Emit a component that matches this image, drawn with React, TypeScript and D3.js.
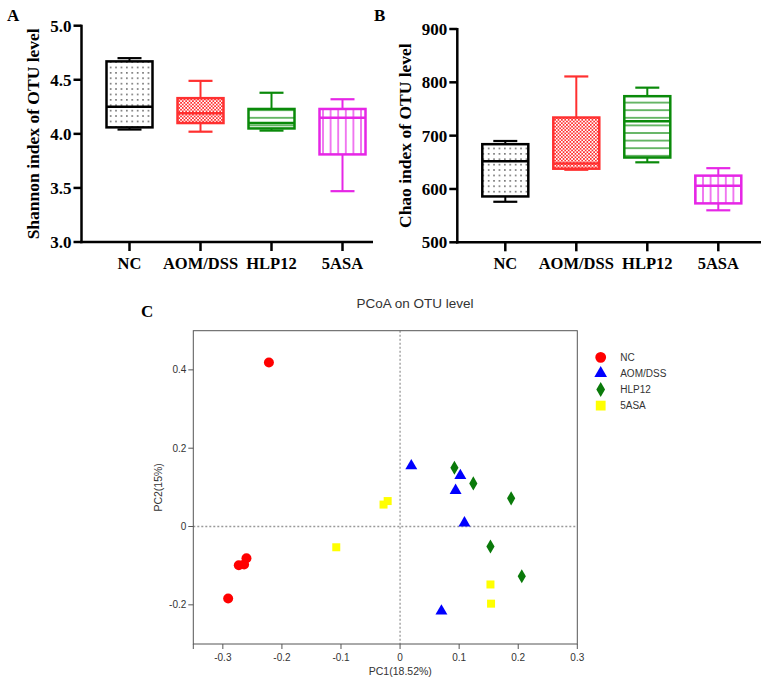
import React from "react";
import * as d3 from "d3";

const groups = ["NC", "AOM/DSS", "HLP12", "5ASA"];
const colors = ["#000000", "#ff3030", "#0a8a0a", "#e626e6"];
// [whiskerLow, q1, median, q3, whiskerHigh]
const shannon = [
  [4.04, 4.06, 4.25, 4.67, 4.70],
  [4.02, 4.10, 4.19, 4.33, 4.49],
  [4.03, 4.05, 4.10, 4.23, 4.38],
  [3.47, 3.81, 4.15, 4.23, 4.32],
];
const chao = [
  [576, 586, 652, 684, 690],
  [636, 638, 648, 734, 811],
  [650, 659, 727, 774, 790],
  [560, 573, 606, 625, 639],
];
const shannonTicks = [3.0, 3.5, 4.0, 4.5, 5.0];
const chaoTicks = [500, 600, 700, 800, 900];

const pcoaGroups = ["NC", "AOM/DSS", "HLP12", "5ASA"];
const pcoaColors = ["#ff0000", "#0000ff", "#0a7a0a", "#ffff00"];
const ncPts = [[-0.222, 0.419], [-0.291, -0.184], [-0.273, -0.099], [-0.264, -0.097], [-0.26, -0.081]];
const aomPts = [[0.019, 0.155], [0.102, 0.13], [0.094, 0.092], [0.109, 0.009], [0.07, -0.216]];
const hlpPts = [[0.092, 0.15], [0.124, 0.11], [0.188, 0.072], [0.153, -0.051], [0.206, -0.127]];
const asaPts = [[-0.021, 0.065], [-0.028, 0.056], [-0.108, -0.053], [0.153, -0.148], [0.154, -0.197]];
const pcoaData = [ncPts, aomPts, hlpPts, asaPts];
const pcXTicks = [-0.3, -0.2, -0.1, 0, 0.1, 0.2, 0.3];
const pcYTicks = [-0.2, 0, 0.2, 0.4];

const serif = "'Liberation Serif', 'Times New Roman', serif";
const sans = "'Liberation Sans', Arial, sans-serif";

const patternIds = ["patDots", "patCheck", "patHLines", "patVLines"];

function Patterns() {
  return (
    <defs>
      <pattern id="patDots" patternUnits="userSpaceOnUse" width={5.4} height={5.4}>
        <rect width={5.4} height={5.4} fill="#fff" />
        <rect x={2} y={2} width={1.3} height={1.3} fill="#222" />
      </pattern>
      <pattern id="patCheck" patternUnits="userSpaceOnUse" width={3.4} height={3.4}>
        <rect width={3.4} height={3.4} fill="#fff" />
        <rect x={0} y={0} width={1.7} height={1.7} fill="#ff3030" />
        <rect x={1.7} y={1.7} width={1.7} height={1.7} fill="#ff3030" />
      </pattern>
      <pattern id="patHLines" patternUnits="userSpaceOnUse" width={10} height={7.6}>
        <rect width={10} height={7.6} fill="#fff" />
        <line x1={0} x2={10} y1={3.8} y2={3.8} stroke="#0a8a0a" strokeWidth={1.5} strokeOpacity={0.8} />
      </pattern>
      <pattern id="patVLines" patternUnits="userSpaceOnUse" width={7.6} height={10}>
        <rect width={7.6} height={10} fill="#fff" />
        <line y1={0} y2={10} x1={3.8} x2={3.8} stroke="#e626e6" strokeWidth={1.5} strokeOpacity={0.8} />
      </pattern>
    </defs>
  );
}

type BoxPanelProps = {
  axisX: number;
  axisRight: number;
  top: number;
  bottom: number;
  domain: [number, number];
  ticks: number[];
  fmt: (v: number) => string;
  data: number[][];
  yLabel: string;
  yLabelX: number;
  panel: string;
  panelX: number;
};

function BoxPanel(p: BoxPanelProps) {
  const y = d3.scaleLinear().domain(p.domain).range([p.bottom, p.top]);
  const x = d3.scalePoint<string>().domain(groups).range([p.axisX + 48, p.axisX + 261]);
  const bw = 46;
  const cap = 24;
  return (
    <g>
      <text x={p.panelX} y={21} fontFamily={serif} fontWeight="bold" fontSize={17}>{p.panel}</text>
      {/* boxes */}
      {p.data.map((d, i) => {
        const cx = x(groups[i])!;
        const c = colors[i];
        return (
          <g key={i}>
            <line x1={cx} x2={cx} y1={y(d[3])} y2={y(d[4])} stroke={c} strokeWidth={2} />
            <line x1={cx - cap / 2} x2={cx + cap / 2} y1={y(d[4])} y2={y(d[4])} stroke={c} strokeWidth={2.2} />
            <line x1={cx} x2={cx} y1={y(d[1])} y2={y(d[0])} stroke={c} strokeWidth={2} />
            <line x1={cx - cap / 2} x2={cx + cap / 2} y1={y(d[0])} y2={y(d[0])} stroke={c} strokeWidth={2.2} />
            <rect x={cx - bw / 2} y={y(d[3])} width={bw} height={y(d[1]) - y(d[3])}
              fill={`url(#${patternIds[i]})`} stroke={c} strokeWidth={2.5} />
            <line x1={cx - bw / 2} x2={cx + bw / 2} y1={y(d[2])} y2={y(d[2])} stroke={c} strokeWidth={2.5} />
          </g>
        );
      })}
      {/* y axis */}
      <line x1={p.axisX} x2={p.axisX} y1={p.top - 1} y2={p.bottom + 1.2} stroke="#000" strokeWidth={2.5} />
      {p.ticks.map((t) => (
        <g key={t}>
          <line x1={p.axisX - 8} x2={p.axisX} y1={y(t)} y2={y(t)} stroke="#000" strokeWidth={2.5} />
          <text x={p.axisX - 10} y={y(t)} dy="0.35em" textAnchor="end" fontFamily={serif} fontWeight="bold" fontSize={17}>{p.fmt(t)}</text>
        </g>
      ))}
      {/* x axis */}
      <line x1={p.axisX - 1.2} x2={p.axisRight} y1={p.bottom} y2={p.bottom} stroke="#000" strokeWidth={2.5} />
      {groups.map((g) => (
        <g key={g}>
          <line x1={x(g)!} x2={x(g)!} y1={p.bottom} y2={p.bottom + 9} stroke="#000" strokeWidth={2.5} />
          <text x={x(g)!} y={269} textAnchor="middle" fontFamily={serif} fontWeight="bold" fontSize={16.5}>{g}</text>
        </g>
      ))}
      <text transform={`translate(${p.yLabelX},${(p.top + p.bottom) / 2}) rotate(-90)`} dy="0.35em"
        textAnchor="middle" fontFamily={serif} fontWeight="bold" fontSize={17.5}>{p.yLabel}</text>
    </g>
  );
}

function PcoaPanel() {
  const left = 193.3, right = 577.3, top = 330.7, bottom = 644;
  const x = d3.scaleLinear().domain([-0.35, 0.3]).range([left, right]);
  const y = d3.scaleLinear().domain([-0.3, 0.5]).range([bottom, top]);
  const shapes = [d3.symbolCircle, d3.symbolTriangle, d3.symbolDiamond, d3.symbolSquare];
  const sizes = [78, 62, 58, 64];
  const legSizes = [92, 70, 66, 96];
  const axisColor = "#555";
  const fmt = (v: number) => (v === 0 ? "0" : (v < 0 ? "-" : "") + Math.abs(v).toFixed(1));
  return (
    <g>
      <text x={141} y={316.5} fontFamily={serif} fontWeight="bold" fontSize={17}>C</text>
      <text x={415} y={308} textAnchor="middle" fontFamily={sans} fontSize={13.5} fill="#333">PCoA on OTU level</text>
      <line x1={x(0)} x2={x(0)} y1={top} y2={bottom} stroke="#999" strokeWidth={1.3} strokeDasharray="2,2" />
      <line x1={left} x2={right} y1={y(0)} y2={y(0)} stroke="#999" strokeWidth={1.3} strokeDasharray="2,2" />
      <rect x={left} y={top} width={right - left} height={bottom - top} fill="none" stroke={axisColor} strokeWidth={1} />
      {pcXTicks.map((t) => (
        <g key={t}>
          <line x1={x(t)} x2={x(t)} y1={bottom} y2={bottom + 5} stroke={axisColor} />
          <text x={x(t)} y={661} textAnchor="middle" fontFamily={sans} fontSize={10} fill="#333">{fmt(t)}</text>
        </g>
      ))}
      <line x1={left} x2={left} y1={bottom} y2={bottom + 5} stroke={axisColor} />
      {pcYTicks.map((t) => (
        <g key={t}>
          <line x1={left - 5} x2={left} y1={y(t)} y2={y(t)} stroke={axisColor} />
          <text x={left - 7} y={y(t)} dy="0.35em" textAnchor="end" fontFamily={sans} fontSize={10} fill="#333">{fmt(t)}</text>
        </g>
      ))}
      <text x={(left + right) / 2 + 15} y={675} textAnchor="middle" fontFamily={sans} fontSize={10.5} fill="#333">PC1(18.52%)</text>
      <text transform={`translate(158,${(top + bottom) / 2}) rotate(-90)`} dy="0.35em" textAnchor="middle"
        fontFamily={sans} fontSize={10.5} fill="#333">PC2(15%)</text>
      {pcoaData.map((pts, gi) => (
        <g key={gi}>
          {pts.map((pt, j) => (
            <path key={j} transform={`translate(${x(pt[0])},${y(pt[1])})`}
              d={d3.symbol(shapes[gi], sizes[gi])()!} fill={pcoaColors[gi]} />
          ))}
        </g>
      ))}
      {pcoaGroups.map((g, i) => (
        <g key={g} transform={`translate(600.7,${357.3 + i * 16.1})`}>
          <path d={d3.symbol(shapes[i], legSizes[i])()!} fill={pcoaColors[i]} />
          <text x={19.5} y={0} dy="0.35em" fontFamily={sans} fontSize={10} fill="#333">{g}</text>
        </g>
      ))}
    </g>
  );
}

export default function App() {
  return (
    <svg width={772} height={684} style={{ position: "absolute", left: 0, top: 0, background: "#fff" }}>
      <Patterns />
      <rect width={772} height={684} fill="#fff" />
      <BoxPanel axisX={81.5} axisRight={373} top={25.7} bottom={242} domain={[3, 5]} ticks={shannonTicks}
        fmt={(v) => v.toFixed(1)} data={shannon} yLabel="Shannon index of OTU level" yLabelX={33} panel="A" panelX={7} />
      <BoxPanel axisX={457.3} axisRight={761} top={29} bottom={242.3} domain={[500, 900]} ticks={chaoTicks}
        fmt={(v) => String(v)} data={chao} yLabel="Chao index of OTU level" yLabelX={405} panel="B" panelX={374} />
      <PcoaPanel />
    </svg>
  );
}
